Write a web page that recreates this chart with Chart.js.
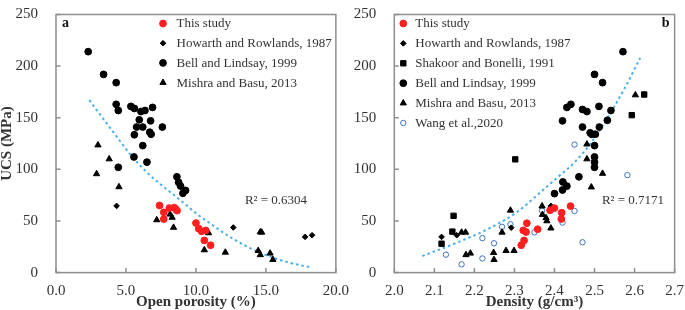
<!DOCTYPE html>
<html>
<head>
<meta charset="utf-8">
<script src="https://cdn.jsdelivr.net/npm/chart.js@4.4.1/dist/chart.umd.min.js"></script>
<style>
  html, body { margin: 0; padding: 0; background: #fff; }
  body { width: 685px; height: 310px; position: relative; overflow: hidden; }
  canvas { position: absolute; top: -3px; }
  #chartA { left: 0; }
  #chartB { left: 350px; }
</style>
</head>
<body>
<canvas id="chartA" width="350" height="313"></canvas>
<canvas id="chartB" width="335" height="313"></canvas>
<script>
// ---- panel a : open porosity (%) vs UCS (MPa), [x, y] pairs ----
const thisStudyA = [[7.4, 65], [7.7, 58.4], [7.7, 51.8], [8.1, 62.5], [8.45, 63], [8.55, 61.5], [8.65, 60],
  [10.0, 48], [10.2, 42.5], [10.4, 40], [10.7, 40.8], [10.6, 31.2], [11.05, 26.5]];
const howarthA = [[4.33, 64.6], [12.67, 43.7], [17.8, 34.6], [18.3, 36.2]];
const bellA = [[2.3, 214], [3.4, 192], [4.3, 184], [4.3, 163], [4.45, 157], [5.35, 161], [5.6, 159], [6.07, 156],
  [6.36, 157], [6.9, 160], [5.95, 148], [5.76, 141], [6.2, 141], [6.76, 147], [6.7, 136], [6.8, 134], [7.6, 141],
  [5.6, 133.5], [6.2, 123], [5.57, 112], [6.5, 107], [4.45, 102], [8.64, 92.8], [8.76, 87.5], [8.9, 83.8],
  [9.26, 79.6], [9.07, 76.8]];
const mishraA = [[3.0, 123.5], [3.8, 110], [2.9, 95.6], [4.5, 83], [7.2, 51], [8.15, 56.5], [8.3, 53.4], [8.4, 43.7],
  [10.9, 38.4], [10.6, 21.9], [12.1, 19.6], [14.6, 39.3], [14.7, 39], [14.45, 21.2], [14.6, 17.2], [15.3, 18.7],
  [15.5, 12.5]];
const trendA = [[2.38, 167], [4.1, 136], [5.4, 113], [6.5, 97], [7.7, 83], [8.9, 70], [10.05, 57], [11.24, 45.5],
  [12.5, 34], [14.3, 21], [16.7, 9.5], [18.3, 5]];

// ---- panel b : density (g/cm3) vs UCS (MPa) ----
const thisStudyB = [[2.317, 26.5], [2.324, 31.2], [2.322, 40.9], [2.329, 39.3], [2.331, 47.8], [2.358, 42],
  [2.389, 60.3], [2.4, 62.5], [2.418, 58], [2.417, 51.9], [2.44, 64.4]];
const howarthB = [[2.118, 34.6], [2.156, 36.2], [2.292, 43.5], [2.391, 64.6]];
const shakoorB = [[2.302, 109.7], [2.148, 55], [2.145, 39.7], [2.118, 28], [2.624, 172.5], [2.593, 152.5]];
const bellB = [[2.571, 214], [2.5, 192], [2.52, 184], [2.441, 163], [2.431, 160], [2.47, 158], [2.481, 156],
  [2.511, 161], [2.541, 157], [2.42, 147], [2.532, 147.5], [2.47, 141], [2.512, 141], [2.489, 135.4],
  [2.493, 134], [2.502, 134], [2.5, 123], [2.5, 112], [2.5, 107], [2.5, 102], [2.461, 92.8], [2.421, 87.8],
  [2.431, 83.8], [2.42, 80], [2.40, 76.5]];
const mishraB = [[2.168, 39], [2.178, 39], [2.179, 17.2], [2.19, 18.7], [2.248, 19.3], [2.249, 12.5], [2.269, 39],
  [2.29, 60.3], [2.279, 21.2], [2.299, 21.2], [2.369, 64.4], [2.37, 56.2], [2.379, 53], [2.381, 50],
  [2.391, 43], [2.481, 124.4], [2.481, 110], [2.52, 96], [2.492, 82.8], [2.602, 172]];
const wangB = [[2.129, 17.4], [2.168, 8], [2.22, 33.4], [2.22, 13.7], [2.249, 28.4], [2.269, 44.4], [2.29, 46.8],
  [2.35, 39], [2.369, 60], [2.45, 59.7], [2.42, 48.4], [2.47, 29.4], [2.45, 124], [2.582, 94.4]];
const trendB = [[2.07, 16], [2.15, 28], [2.23, 41.5], [2.306, 58.5], [2.364, 77.5], [2.41, 93], [2.448, 106],
  [2.49, 125], [2.531, 149], [2.573, 177], [2.614, 208]];

const yTicks = [0, 50, 100, 150, 200, 250];

const FONT = "'Liberation Serif', 'Times New Roman', serif";
const TEXT = '#333';
const FRAME = '#8e8e8e';
const RED = '#ff1f1f';
const BLUE = '#3f72b8';
const TREND = '#45b0e8';

Chart.defaults.font.family = FONT;
Chart.defaults.color = TEXT;

// marker looks, shared by plot and legend
const looks = {
  thisStudy: { label: 'This study', style: 'circle', r: 3.4, fill: RED, stroke: RED, lw: 1 },
  howarth: { label: 'Howarth and Rowlands, 1987', style: 'rectRot', r: 2.8, fill: '#000', stroke: '#000', lw: 1 },
  shakoor: { label: 'Shakoor and Bonelli, 1991', style: 'rect', r: 3.8, fill: '#000', stroke: '#000', lw: 1 },
  bell: { label: 'Bell and Lindsay, 1999', style: 'circle', r: 3.4, fill: '#000', stroke: '#000', lw: 1 },
  mishra: { label: 'Mishra and Basu, 2013', style: 'triangle', r: 3.6, fill: '#000', stroke: '#000', lw: 1 },
  wang: { label: 'Wang et al.,2020', style: 'circle', r: 2.7, fill: 'rgba(0,0,0,0)', stroke: BLUE, lw: 1 }
};

const toXY = arr => arr.map(p => ({ x: p[0], y: p[1] }));

function pointSet(key, arr) {
  const l = looks[key];
  return {
    label: l.label,
    data: toXY(arr),
    pointStyle: l.style,
    pointRadius: l.r,
    pointBackgroundColor: l.fill,
    pointBorderColor: l.stroke,
    pointBorderWidth: l.lw,
    showLine: false
  };
}

function trendSet(arr) {
  return {
    label: 'trend',
    data: toXY(arr),
    showLine: true,
    pointRadius: 0,
    borderColor: TREND,
    borderWidth: 2,
    borderDash: [2.5, 3],
    cubicInterpolationMode: 'monotone',
    fill: false
  };
}

// frame, inward ticks, inside legend, panel letter and R2 text
const decor = {
  id: 'decor',
  afterDatasetsDraw(chart, args, o) {
    const { ctx, chartArea: a } = chart;
    const xs = chart.scales.x, ys = chart.scales.y;
    ctx.save();
    ctx.strokeStyle = FRAME;
    ctx.lineWidth = 1.5;
    ctx.strokeRect(a.left, a.top, a.right - a.left, a.bottom - a.top);
    ctx.beginPath();
    xs.ticks.forEach(t => {
      const px = xs.getPixelForValue(t.value);
      ctx.moveTo(px, a.bottom); ctx.lineTo(px, a.bottom - 4.5);
    });
    ys.ticks.forEach(t => {
      const py = ys.getPixelForValue(t.value);
      ctx.moveTo(a.left, py); ctx.lineTo(a.left + 4.5, py);
    });
    ctx.stroke();

    // legend
    ctx.textBaseline = 'middle';
    o.legend.forEach((key, i) => {
      const l = looks[key];
      const lx = a.left + o.legendX, ly = a.top + o.legendY + i * o.legendGap;
      ctx.fillStyle = l.fill;
      ctx.strokeStyle = l.stroke;
      ctx.lineWidth = l.lw;
      Chart.helpers.drawPoint(ctx, { pointStyle: l.style, radius: l.r, borderWidth: l.lw, rotation: 0 }, lx, ly);
      ctx.fillStyle = TEXT;
      ctx.font = '13px ' + FONT;
      ctx.textAlign = 'left';
      ctx.fillText(l.label, lx + o.textGap, ly + 0.5);
    });

    // panel letter
    ctx.fillStyle = '#111';
    ctx.font = 'bold 14px ' + FONT;
    if (o.letterSide === 'left') {
      ctx.textAlign = 'left';
      ctx.fillText(o.letter, a.left + 6, a.top + 9);
    } else {
      ctx.textAlign = 'right';
      ctx.fillText(o.letter, a.right - 5, a.top + 9);
    }

    // R2
    ctx.fillStyle = TEXT;
    ctx.font = '13px ' + FONT;
    ctx.textAlign = 'left';
    ctx.fillText(o.r2, xs.getPixelForValue(o.r2x), ys.getPixelForValue(o.r2y));
    ctx.restore();
  }
};

function makeChart(id, datasets, xOpts, yWidth, padRight, decorOpts) {
  return new Chart(document.getElementById(id), {
    type: 'scatter',
    data: { datasets: datasets },
    options: {
      responsive: false,
      animation: false,
      layout: { padding: { left: 0, right: padRight, top: 9, bottom: 0 } },
      plugins: { legend: { display: false }, tooltip: { enabled: false }, decor: decorOpts },
      scales: {
        x: {
          type: 'linear',
          min: xOpts.min, max: xOpts.max,
          grid: { display: false },
          border: { display: false },
          ticks: {
            stepSize: xOpts.step,
            padding: 1,
            font: { size: 15 },
            color: TEXT,
            callback: v => v.toFixed(1)
          },
          title: {
            display: true,
            text: xOpts.title,
            font: { size: 15, weight: 'bold', lineHeight: 1 },
            color: TEXT,
            padding: { top: 0, bottom: 0 }
          },
          afterFit: s => { s.height = 37.4; }
        },
        y: {
          type: 'linear',
          min: 0, max: 250,
          grid: { display: false },
          border: { display: false },
          afterBuildTicks: s => { s.ticks = yTicks.map(v => ({ value: v })); },
          ticks: { padding: 10, font: { size: 15, lineHeight: 1 }, color: TEXT },
          title: {
            display: id === 'chartA',
            text: 'UCS (MPa)',
            font: { size: 15, weight: 'bold', lineHeight: 1 },
            color: TEXT,
            padding: { top: 0, bottom: 0 }
          },
          afterFit: s => { s.width = yWidth; }
        }
      }
    },
    plugins: [decor]
  });
}

makeChart('chartA', [
  pointSet('thisStudy', thisStudyA),
  pointSet('howarth', howarthA),
  pointSet('bell', bellA),
  pointSet('mishra', mishraA),
  trendSet(trendA)
], { min: 0, max: 20, step: 5, title: 'Open porosity (%)' }, 56, 14, {
  legend: ['thisStudy', 'howarth', 'bell', 'mishra'],
  legendX: 107, legendY: 9, legendGap: 19.7, textGap: 13.5,
  letter: 'a', letterSide: 'left',
  r2: 'R² = 0.6304', r2x: 13.5, r2y: 70
});

makeChart('chartB', [
  pointSet('thisStudy', thisStudyB),
  pointSet('howarth', howarthB),
  pointSet('shakoor', shakoorB),
  pointSet('bell', bellB),
  pointSet('mishra', mishraB),
  pointSet('wang', wangB),
  trendSet(trendB)
], { min: 2.0, max: 2.7, step: 0.1, title: 'Density (g/cm³)' }, 44.3, 10, {
  legend: ['thisStudy', 'howarth', 'shakoor', 'bell', 'mishra', 'wang'],
  legendX: 9, legendY: 9, legendGap: 19.9, textGap: 12,
  letter: 'b', letterSide: 'right',
  r2: 'R² = 0.7171', r2x: 2.5185, r2y: 70
});
</script>
</body>
</html>
